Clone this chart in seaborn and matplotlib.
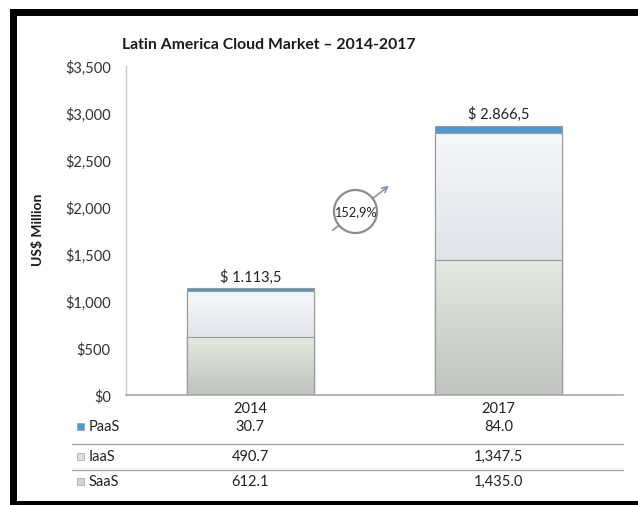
import numpy as np
import pandas as pd
import matplotlib
matplotlib.use('Agg')
import matplotlib.pyplot as plt
import matplotlib.transforms as mtransforms
from matplotlib.patches import Rectangle
from matplotlib.lines import Line2D
import seaborn as sns

# Chart data (US$ million)
years = ['2014', '2017']
paas = [30.7, 84.0]
iaas = [490.7, 1347.5]
saas = [612.1, 1435.0]
total_labels = ['$ 1.113,5', '$ 2.866,5']
growth_label = '152,9%'
y_ticks = [0, 500, 1000, 1500, 2000, 2500, 3000, 3500]
y_tick_labels = ['$0', '$500', '$1,000', '$1,500', '$2,000', '$2,500', '$3,000', '$3,500']

df = pd.DataFrame({'year': years, 'PaaS': paas, 'IaaS': iaas, 'SaaS': saas})
df['saas_top'] = df['SaaS']
df['iaas_top'] = df['SaaS'] + df['IaaS']
df['paas_top'] = df['iaas_top'] + df['PaaS']

sns.set_style('white')
plt.rcParams['font.family'] = ['Lato', 'DejaVu Sans']

W, H = 638, 506
fig = plt.figure(figsize=(W / 100, H / 100), dpi=100)


def fx(px):
    return px / W


def fy(py):
    return 1 - py / H


ax = fig.add_axes([fx(126), fy(396), fx(623) - fx(126), fy(67) - fy(396)])

# stacked bars: draw cumulative heights, tallest first
bar_w = 0.51
PAAS_C, IAAS_C, SAAS_C = '#4a9ad3', '#e3e7ee', '#d6ddd3'
sns.barplot(data=df, x='year', y='paas_top', color=PAAS_C, saturation=1, width=bar_w, ax=ax,
            edgecolor='#9a9a9a', linewidth=0.8)
sns.barplot(data=df, x='year', y='iaas_top', color=IAAS_C, saturation=1, width=bar_w, ax=ax,
            edgecolor='#9a9a9a', linewidth=0.8)
sns.barplot(data=df, x='year', y='saas_top', color=SAAS_C, saturation=1, width=bar_w, ax=ax,
            edgecolor='#9a9a9a', linewidth=0.8)

# soft vertical gradient on the light segments (Excel look)
grads = {IAAS_C: ('#f5f7fb', '#c8ccd5'), SAAS_C: ('#e2e9df', '#bfc5bd')}
for p in list(ax.patches):
    fc = matplotlib.colors.to_hex(p.get_facecolor())
    if fc in grads:
        c1, c2 = grads[fc]
        cmap = matplotlib.colors.LinearSegmentedColormap.from_list('g', [c2, c1])
        x0, y0 = p.get_x(), p.get_y()
        w, h = p.get_width(), p.get_height()
        grad = np.linspace(0, 1, 100).reshape(-1, 1)
        im = ax.imshow(grad, cmap=cmap, origin='lower', aspect='auto', interpolation='bilinear',
                       extent=[x0, x0 + w, y0, y0 + h], zorder=p.get_zorder() + 0.1)
        im.set_clip_path(p)
        ax.add_patch(Rectangle((x0, y0), w, h, fill=False, edgecolor='#9a9a9a',
                               linewidth=0.8, zorder=p.get_zorder() + 0.2))

ax.set_xlim(-0.5, 1.5)
ax.set_ylim(0, 3500)
ax.set_yticks(y_ticks)
ax.set_yticklabels(y_tick_labels, fontsize=10.5, color='#333333')
ax.tick_params(axis='y', length=0, pad=11)
ax.tick_params(axis='x', length=0, pad=4, labelsize=10.5, labelcolor='#222222')
ax.set_xlabel('')
ax.set_ylabel('')
for s in ['top', 'right']:
    ax.spines[s].set_visible(False)
ax.spines['left'].set_color('#c8c8c8')
ax.spines['bottom'].set_color('#a8a8a8')
ax.spines['left'].set_linewidth(1.0)
ax.spines['bottom'].set_linewidth(1.2)

# total labels above bars
for i, lab in enumerate(total_labels):
    ax.annotate(lab, xy=(i, df['paas_top'][i]), xytext=(0, 3), textcoords='offset points',
                ha='center', va='bottom', fontsize=10.5, color='#222222')

# growth bubble with arrow
ax.annotate('', xy=(0.567, 2245), xytext=(0.323, 1734),
            arrowprops=dict(arrowstyle='->', color='#7a98b6', lw=1.2), zorder=5)
ax.plot([0.423], [1957], marker='o', markersize=31, mfc='white', mec='#8c8c8c', mew=1.6,
        linestyle='none', zorder=6)
ax.text(0.423, 1957, growth_label, ha='center', va='center', fontsize=9.2, color='#222222',
        zorder=7)

# titles
fig.text(fx(122), fy(45), 'Latin America Cloud Market \u2013 2014-2017', ha='left', va='center',
         fontsize=11.3, fontweight='bold', color='#1a1a1a')
fig.text(fx(38), fy(230), 'US$ Million', rotation=90, ha='center', va='center',
         fontsize=10, fontweight='bold', color='#1a1a1a')

# data table under the axis
rows = [('PaaS', paas, PAAS_C, 427), ('IaaS', iaas, '#dcdfe4', 457), ('SaaS', saas, '#d3d6d1', 482)]
trans = mtransforms.blended_transform_factory(ax.transData, fig.transFigure)
for name, vals, col, py in rows:
    fig.patches.append(Rectangle((fx(77), fy(py + 3.5)), fx(7), fy(0) - fy(7),
                                 transform=fig.transFigure, facecolor=col,
                                 edgecolor='#a0a0a0', linewidth=0.5))
    fig.text(fx(89), fy(py), name, ha='left', va='center', fontsize=10.5, color='#222222')
    for i, v in enumerate(vals):
        fig.text(i, fy(py), f'{v:,.1f}', transform=trans, ha='center', va='center',
                 fontsize=10.5, color='#222222')

for py in [445, 471]:
    fig.add_artist(Line2D([fx(72), fx(623)], [fy(py), fy(py)], transform=fig.transFigure,
                          color='#a8a8a8', linewidth=1.0))

# black frame (top, left, bottom)
frame = [(10, 10, W - 10, 7), (10, 10, 7, H - 10), (10, H - 4, W - 10, 4)]
for x0, y0, w, h in frame:
    fig.patches.append(Rectangle((fx(x0), fy(y0 + h)), fx(w), fy(0) - fy(h),
                                 transform=fig.transFigure, facecolor='black', edgecolor='none'))

fig.savefig('out.png', dpi=100)
